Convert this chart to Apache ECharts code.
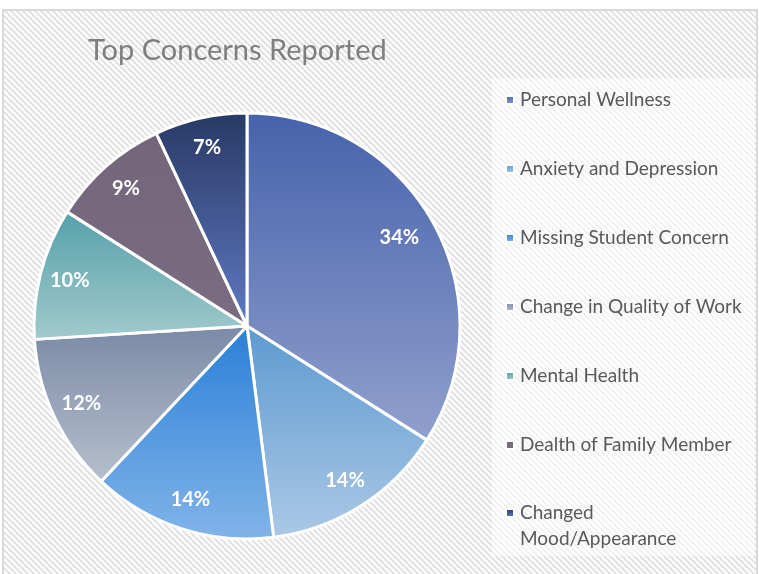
<!DOCTYPE html>
<html><head><meta charset="utf-8">
<script src="https://cdn.jsdelivr.net/npm/echarts@6/dist/echarts.min.js"></script>
<style>html,body{margin:0;padding:0;background:#fff}#c{width:759px;height:574px}</style>
</head><body><div id="c"></div>
<script>
// ---- data ----
const titleText = 'Top Concerns Reported';
const categories = ['Personal Wellness', 'Anxiety and Depression', 'Missing Student Concern',
  'Change in Quality of Work', 'Mental Health', 'Dealth of Family Member', 'Changed Mood/Appearance'];
const values = [34, 14, 14, 12, 10, 9, 7];

// ---- styles ----
const topColors = ['#4662ab', '#5d9ad0', '#2a7fd7', '#7a8aa6', '#55a0aa', '#74667a', '#283964'];
const bottomColors = ['#91a0cd', '#abc8e6', '#82b4e9', '#b6bfcd', '#a2cacd', '#7b6d81', '#6079c2'];

const tile = document.createElement('canvas');
tile.width = 6; tile.height = 6;
const g = tile.getContext('2d');
g.fillStyle = '#ffffff'; g.fillRect(0, 0, 6, 6);
g.strokeStyle = '#e2e2e2'; g.lineWidth = 2.2;
g.beginPath();
g.moveTo(-1, -1); g.lineTo(7, 7);
g.moveTo(-1, 5); g.lineTo(1, 7);
g.moveTo(5, -1); g.lineTo(7, 1);
g.stroke();

const FONT = 'Lato';
const pieData = categories.map((n, i) => ({
  name: n, value: values[i],
  itemStyle: { color: new echarts.graphic.LinearGradient(0, 0, 0, 1, [
    { offset: 0, color: topColors[i] }, { offset: 1, color: bottomColors[i] }]) }
}));
const labelData = categories.map((n, i) => ({ name: n, value: values[i] }));
// nudge the large slice's label toward the centre, as in the reference
labelData[0].label = { padding: [8, 16, 0, 0] };

const chart = echarts.init(document.getElementById('c'), null, { renderer: 'canvas' });
chart.setOption({
  animation: false,
  graphic: [
    { type: 'rect', z: 0, silent: true, shape: { x: 3, y: 10, width: 754, height: 570 },
      style: { fill: { image: tile, repeat: 'repeat' }, stroke: '#d9d9d9', lineWidth: 2 } },
    { type: 'rect', z: 1, silent: true, shape: { x: 492, y: 78, width: 263, height: 478 },
      style: { fill: 'rgba(255,255,255,0.55)' } }
  ],
  title: {
    text: titleText, left: 88, top: 36, padding: 0,
    textStyle: { fontFamily: FONT, fontSize: 29, fontWeight: 'normal', color: '#7f7f7f' }
  },
  legend: [
    {
      orient: 'vertical', left: 505, top: 90, padding: 0, itemGap: 49,
      itemWidth: 8, itemHeight: 8, icon: 'rect',
      data: categories.slice(0, 6),
      textStyle: { fontFamily: FONT, fontSize: 19, lineHeight: 20, color: '#595959', padding: [0, 0, 0, 1] }
    },
    {
      orient: 'vertical', left: 505, top: 474, padding: 0,
      itemWidth: 8, itemHeight: 8, icon: 'rect',
      data: categories.slice(6),
      formatter: n => '\n' + n.replace(' ', '\n'),
      textStyle: { fontFamily: FONT, fontSize: 19, lineHeight: 26, color: '#595959', padding: [0, 0, 0, 1] }
    }
  ],
  series: [
    {
      type: 'pie', center: [247, 326], radius: [0, 213], startAngle: 90, clockwise: true,
      data: pieData, label: { show: false }, labelLine: { show: false },
      itemStyle: { borderColor: '#ffffff', borderWidth: 3 },
      emphasis: { disabled: true }, silent: true
    },
    {
      type: 'pie', center: [247, 326], radius: [147, 213], startAngle: 90, clockwise: true,
      data: labelData, silent: true, emphasis: { disabled: true },
      itemStyle: { color: 'rgba(0,0,0,0)', borderWidth: 0 },
      labelLine: { show: false },
      label: {
        show: true, position: 'inside',
        formatter: p => Math.round(p.percent) + '%',
        fontFamily: FONT, fontSize: 20, fontWeight: 'bold', color: '#ffffff'
      }
    }
  ]
});
</script></body></html>
